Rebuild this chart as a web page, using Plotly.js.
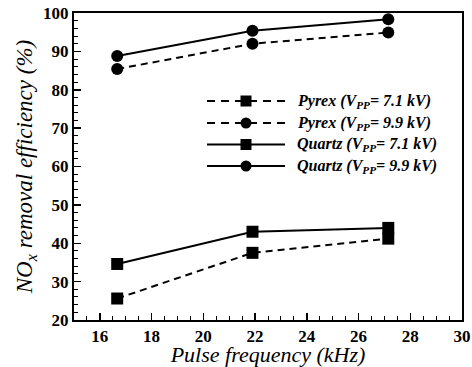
<!DOCTYPE html>
<html><head><meta charset="utf-8">
<script src="https://cdn.plot.ly/plotly-3.0.1.min.js"></script>
<style>
html,body{margin:0;padding:0;background:#fff}
#chart{width:472px;height:367px}
#chart svg text, #chart svg tspan{font-family:'Liberation Serif', serif !important;}
</style>
</head><body><div id="chart"></div>
<script>
// Data
const freq = [16.67, 21.9, 27.15];
const pyrex71 = [25.6, 37.5, 41.2];
const pyrex99 = [85.4, 92.0, 94.9];
const quartz71 = [34.6, 43.0, 44.0];
const quartz99 = [88.8, 95.4, 98.4];
const seriesNames = [
  'Pyrex (V<sub>PP</sub>= 7.1 kV)',
  'Pyrex (V<sub>PP</sub>= 9.9 kV)',
  'Quartz (V<sub>PP</sub>= 7.1 kV)',
  'Quartz (V<sub>PP</sub>= 9.9 kV)'
];
const seriesValues = [pyrex71, pyrex99, quartz71, quartz99];
const seriesDash = ['7px,5px', '7px,5px', 'solid', 'solid'];
const seriesSymbol = ['square', 'circle', 'square', 'circle'];
const seriesSize = [12, 12, 12, 12];

const SERIF = 'Liberation Serif';

const traces = seriesValues.map((v, i) => ({
  x: freq, y: v, type: 'scatter', mode: 'lines+markers', name: seriesNames[i],
  showlegend: false,
  line: {color: '#000', width: 2, dash: seriesDash[i]},
  marker: {color: '#000', symbol: seriesSymbol[i], size: seriesSize[i]},
  cliponaxis: false
}));

// legend drawn manually (long sample lines like the original)
const L = 74, R = 462, T = 13, B = 320;
const px = x => (x - L) / (R - L);
const py = y => (B - y) / (B - T);
const rowsY = [101, 123, 144.5, 166];
const shapes = [];
const annotations = [];
rowsY.forEach((ry, i) => {
  shapes.push({type: 'line', xref: 'paper', yref: 'paper', x0: px(207), x1: px(285), y0: py(ry), y1: py(ry),
    line: {color: '#000', width: 2, dash: seriesDash[i] === 'solid' ? 'solid' : '8px,6px'}});
  if (seriesSymbol[i] === 'square') {
    shapes.push({type: 'rect', xref: 'paper', yref: 'paper', x0: px(240.5), x1: px(251.5), y0: py(ry + 5.5), y1: py(ry - 5.5),
      fillcolor: '#000', line: {width: 0}});
  } else {
    shapes.push({type: 'circle', xref: 'paper', yref: 'paper', x0: px(240.5), x1: px(251.5), y0: py(ry + 5.5), y1: py(ry - 5.5),
      fillcolor: '#000', line: {width: 0}});
  }
  annotations.push({xref: 'paper', yref: 'paper', x: px(295), y: py(ry), xanchor: 'left', yanchor: 'middle',
    text: seriesNames[i], showarrow: false,
    font: {family: SERIF, size: 16, color: '#000', weight: 'bold', style: 'italic'}});
});

const layout = {
  width: 472, height: 367,
  margin: {l: L, r: 472 - R, t: T, b: 367 - B, pad: 0},
  paper_bgcolor: '#fff', plot_bgcolor: '#fff',
  showlegend: false,
  font: {family: SERIF, color: '#000'},
  xaxis: {
    range: [15, 30], dtick: 2, tick0: 16, ticks: 'inside', ticklen: 7, tickwidth: 1.5, tickcolor: '#000',
    minor: {dtick: 0.5, ticks: 'inside', ticklen: 4, tickwidth: 1, tickcolor: '#000'},
    showgrid: false, zeroline: false, showline: true, linewidth: 2, linecolor: '#000', mirror: true,
    tickfont: {family: SERIF, size: 17, color: '#000', weight: 'bold'},
    title: {text: 'Pulse frequency (kHz)', font: {family: SERIF, size: 22, color: '#000', style: 'italic'}, standoff: 4}
  },
  yaxis: {
    range: [20, 100], dtick: 10, ticks: 'inside', ticklen: 7, tickwidth: 1.5, tickcolor: '#000',
    minor: {dtick: 2, ticks: 'inside', ticklen: 4, tickwidth: 1, tickcolor: '#000'},
    showgrid: false, zeroline: false, showline: true, linewidth: 2, linecolor: '#000', mirror: true,
    tickfont: {family: SERIF, size: 17, color: '#000', weight: 'bold'},
    title: {text: 'NO<sub>x</sub> removal efficiency (%)', font: {family: SERIF, size: 23, color: '#000', style: 'italic'}, standoff: 4}
  },
  shapes: shapes,
  annotations: annotations
};

Plotly.newPlot('chart', traces, layout, {displayModeBar: false, staticPlot: true}).then(gd => {
  gd.querySelectorAll('svg text').forEach(t => { t.style.fontFamily = "'Liberation Serif', serif"; });
});
</script>
</body></html>
